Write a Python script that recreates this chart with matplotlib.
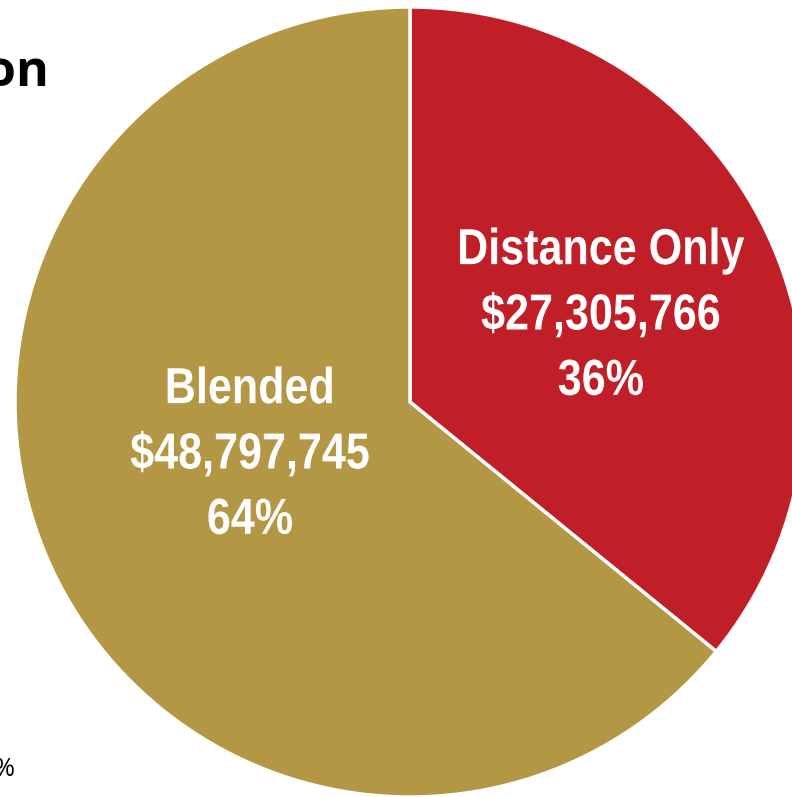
import matplotlib
matplotlib.use("Agg")
import matplotlib.pyplot as plt
from matplotlib.patheffects import AbstractPathEffect
from matplotlib.transforms import Affine2D

categories = ["Distance Only", "Blended"]
values = [27305766, 48797745]
colors = ["#C01F28", "#B39744"]

W, H = 792, 797
fig = plt.figure(figsize=(W / 100, H / 100), dpi=100)
ax = fig.add_axes([0, 0, 1, 1])
ax.set_aspect("equal")

cx, cy, r = 410, H - 402, 395
wedges, _ = ax.pie(values, colors=colors, startangle=90, counterclock=False,
                   center=(cx, cy), radius=r, frame=True,
                   wedgeprops=dict(edgecolor="white", linewidth=2.5))
ax.set_xlim(0, W)
ax.set_ylim(0, H)
ax.axis("off")


class Condense(AbstractPathEffect):
    """Narrow the glyphs horizontally around a fixed display x."""
    def __init__(self, sx, x0):
        super().__init__()
        self.sx, self.x0 = sx, x0

    def draw_path(self, renderer, gc, tpath, affine, rgbFace=None):
        t = affine + Affine2D().translate(-self.x0, 0).scale(self.sx, 1).translate(self.x0, 0)
        renderer.draw_path(gc, tpath, t, rgbFace)


total = sum(values)
font = ["Liberation Sans", "DejaVu Sans"]
label_pos = [(601, H - 316), (250, H - 455)]
for cat, v, (x, y) in zip(categories, values, label_pos):
    txt = f"{cat}\n${v:,.0f}\n{v / total * 100:.0f}%"
    t = ax.text(x, y, txt, ha="center", va="center", color="white", fontsize=36.5,
                fontweight="bold", family=font, linespacing=1.43)
    x_disp = ax.transData.transform((x, y))[0]
    t.set_path_effects([Condense(0.85, x_disp)])

fig.text(50 / W, 1 - 73 / H, "tion", ha="right", va="center", fontsize=36,
         fontweight="bold", family=["Open Sans", "DejaVu Sans"], color="black")
fig.text(16 / W, 1 - 769 / H, "0%", ha="right", va="center", fontsize=18,
         family=["Open Sans", "DejaVu Sans"], color="black")

fig.savefig("out.png", dpi=100)
